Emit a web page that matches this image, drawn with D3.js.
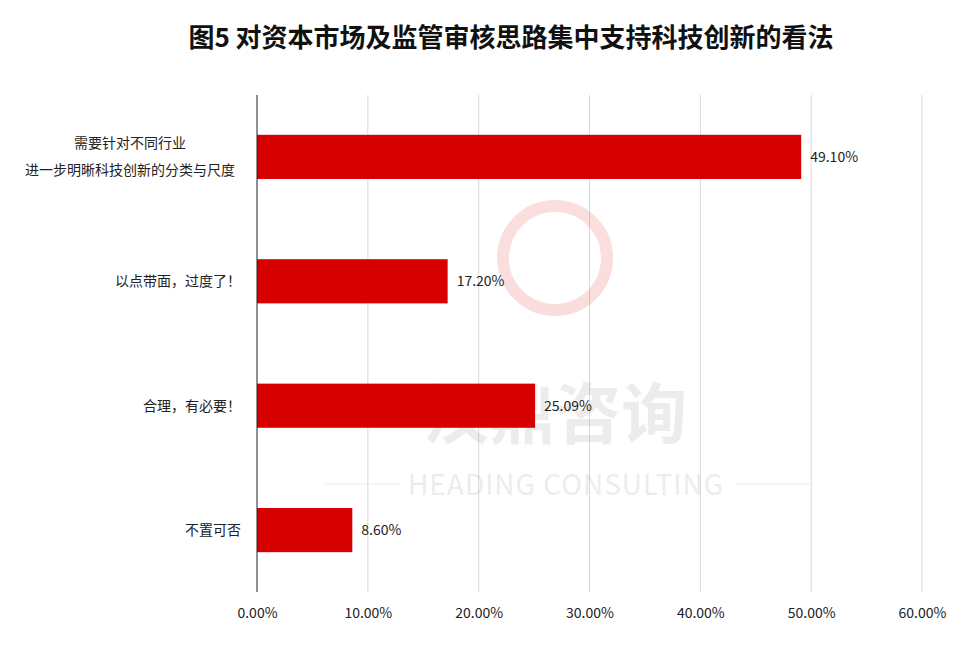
<!DOCTYPE html>
<html><head><meta charset="utf-8">
<script src="https://cdn.jsdelivr.net/npm/d3@7"></script>
<style>body{margin:0;background:#fff;font-family:"Noto Sans CJK SC","Noto Sans",sans-serif;}</style>
</head><body><svg id="c" width="969" height="646"></svg>
<script>
const categories = [["需要针对不同行业","进一步明晰科技创新的分类与尺度"],["以点带面，过度了！"],["合理，有必要！"],["不置可否"]];
const values = [49.10, 17.20, 25.09, 8.60];
const tickValues = [0,10,20,30,40,50,60];

const svg = d3.select("#c");
const m = {l:257, r:922, t:95, b:592};
const x = d3.scaleLinear().domain([0,60]).range([m.l,m.r]);
const y = d3.scaleBand().domain(d3.range(categories.length)).range([m.t,m.b]).paddingInner(0.645).paddingOuter(0.32);

svg.append("text").attr("x",511).attr("y",47).attr("text-anchor","middle")
  .attr("font-size",26).attr("font-weight","bold").attr("fill","#111").text("图5 对资本市场及监管审核思路集中支持科技创新的看法");

svg.append("g").selectAll("line").data(tickValues.slice(1)).join("line")
  .attr("x1",d=>x(d)).attr("x2",d=>x(d)).attr("y1",m.t).attr("y2",m.b)
  .attr("stroke","#d9d9d9");

const wm = svg.append("g").attr("opacity",0.13);
wm.append("text").attr("x",555).attr("y",438).attr("text-anchor","middle").attr("font-size",66).attr("font-weight","bold").attr("fill","#777").text("汉鼎咨询");
wm.append("text").attr("x",566).attr("y",495).attr("text-anchor","middle").attr("font-size",28).attr("fill","#777").attr("letter-spacing",1).text("HEADING CONSULTING");
wm.append("line").attr("x1",325).attr("x2",400).attr("y1",484).attr("y2",484).attr("stroke","#777");
wm.append("line").attr("x1",735).attr("x2",810).attr("y1",484).attr("y2",484).attr("stroke","#777");
wm.append("circle").attr("cx",555).attr("cy",258).attr("r",52).attr("fill","none").attr("stroke","#d00").attr("stroke-width",12);

svg.append("g").selectAll("rect").data(values).join("rect")
  .attr("x",x(0)).attr("y",(d,i)=>y(i)).attr("width",d=>x(d)-x(0)).attr("height",y.bandwidth())
  .attr("fill","#d60000");

svg.append("g").selectAll("text").data(values).join("text")
  .attr("x",d=>x(d)+9).attr("y",(d,i)=>y(i)+y.bandwidth()/2+5)
  .attr("font-size",14).attr("fill","#222").text(d=>d.toFixed(2)+"%");

const ax = svg.append("g").attr("transform",`translate(0,${m.b})`)
  .call(d3.axisBottom(x).tickValues(tickValues).tickSize(0).tickPadding(16).tickFormat(d=>d.toFixed(2)+"%"));
ax.select(".domain").remove();
ax.selectAll("text").attr("font-size",14).attr("fill","#222").attr("font-family","\"Noto Sans CJK SC\",sans-serif");

svg.append("line").attr("x1",m.l).attr("x2",m.l).attr("y1",m.t).attr("y2",m.b).attr("stroke","#222");

categories.forEach((c,i)=>{
  const cy = y(i)+y.bandwidth()/2;
  const multi = c.length>1;
  const t = svg.append("text").attr("text-anchor",multi?"middle":"end").attr("font-size",14).attr("fill","#222");
  c.forEach((line,j)=>{
    t.append("tspan").attr("x",multi?130:241).attr("y",cy+5+(j-(c.length-1)/2)*27).text(line);
  });
});
</script></body></html>
